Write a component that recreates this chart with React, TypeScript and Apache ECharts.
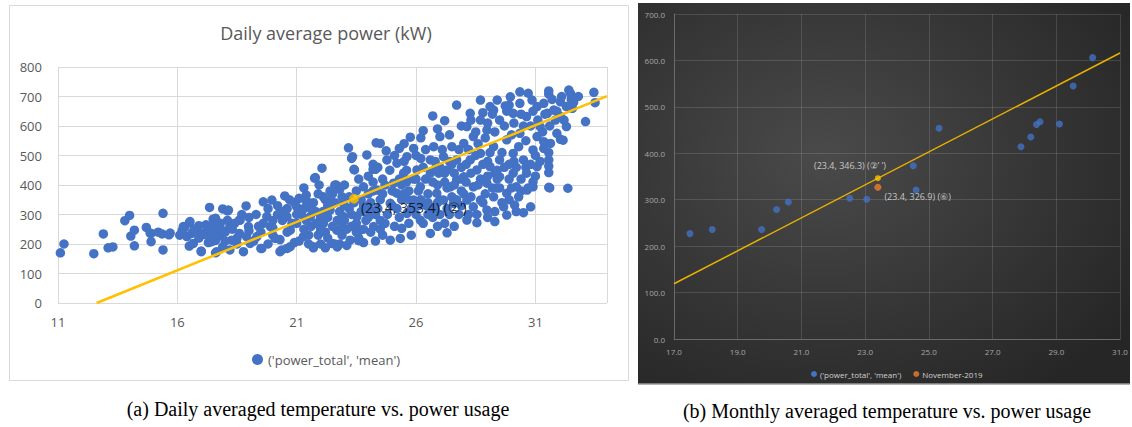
import React, { useEffect, useRef } from "react";
import * as echarts from "echarts";

// ---------- Data (a): daily averaged temperature vs power ----------
const dailyTitle = "Daily average power (kW)";
const seriesName = "('power_total', 'mean')";
const dailyXTicks = { min: 11, max: 34, interval: 5 };
const dailyYTicks = { min: 0, max: 800, interval: 100 };
const dailyPoints: [number, number][] = [
  [11.1, 170], [11.25, 200], [12.5, 167], [12.9, 234], [13.1, 187], [13.3, 190], [13.8, 279], [14.0, 297],
  [14.05, 227], [14.2, 247], [14.2, 194], [14.7, 256], [14.9, 236], [14.9, 208], [15.2, 240], [15.4, 304],
  [15.4, 180], [15.36, 234], [15.65, 231], [14.86, 237], [15.7, 237],
  [16.1, 230], [16.3, 256], [16.5, 272], [16.5, 193], [16.6, 236], [16.8, 245], [17.0, 176], [17.35, 324],
  [17.3, 250], [17.2, 240], [17.5, 284], [17.6, 170], [17.9, 319], [18.1, 312], [17.4, 220], [17.6, 212],
  [17.8, 230], [18.0, 240], [16.4, 225], [16.9, 220], [17.1, 232], [17.7, 245], [17.3, 205], [17.9, 190],
  [18.2, 180], [18.3, 250], [18.5, 220], [18.6, 281], [18.88, 329], [16.25, 259], [16.53, 276], [16.67, 202],
  [17.0, 174], [17.09, 236], [17.37, 247], [17.65, 236], [17.86, 247], [17.6, 287], [17.44, 208], [17.65, 174],
  [18.14, 315], [18.2, 259], [18.28, 213], [18.63, 281], [18.6, 236], [18.77, 174], [18.98, 259], [19.05, 202],
  [19.33, 225], [19.54, 185], [19.6, 343], [19.75, 293], [19.96, 349], [19.9, 259], [20.1, 219], [20.38, 180],
  [20.5, 363], [20.59, 293], [20.73, 247], [20.73, 191], [21.0, 270], [21.0, 326], [21.28, 225], [21.4, 366],
  [21.57, 293], [21.7, 191], [21.75, 423], [22.06, 457], [22.12, 360], [22.12, 270], [22.4, 315], [22.47, 202],
  [22.6, 400], [22.68, 247], [22.96, 338], [22.96, 293], [23.17, 526], [23.24, 213], [23.3, 490], [23.4, 453],
  [23.52, 293], [23.66, 247], [23.8, 394], [23.94, 502], [24.08, 315], [24.2, 453], [24.33, 543], [24.36, 383],
  [24.22, 259], [21.78, 425], [21.94, 400], [22.66, 400], [23.34, 496], [23.42, 451], [24.3, 453], [24.2, 470],
  [19.2, 210], [19.5, 240], [19.8, 200], [20.0, 230], [20.3, 215], [20.6, 240], [20.9, 205], [19.0, 245],
  [18.5, 200], [18.0, 210], [18.9, 225], [19.5, 185], [20.3, 174], [20.6, 185], [21.5, 230], [21.7, 187],
  [22.2, 187], [22.6, 200], [22.8, 200], [23.6, 211],
  [21.2, 300], [21.5, 340], [21.8, 310], [22.0, 290], [22.3, 330], [22.5, 370], [22.8, 310], [23.0, 280],
  [23.2, 320], [23.5, 380], [23.7, 350], [24.0, 370], [21.3, 250], [21.6, 260], [21.9, 230], [22.2, 240],
  [22.5, 260], [22.9, 230], [23.3, 260], [23.6, 220], [23.9, 280], [24.1, 240], [21.1, 210], [21.5, 200],
  [22.0, 200], [22.7, 190], [23.1, 195], [23.8, 205], [24.3, 300], [24.5, 350], [24.6, 420], [24.4, 460],
  [24.0, 430], [23.6, 420], [23.0, 400], [22.4, 380], [21.9, 370], [21.3, 390], [20.9, 340], [20.6, 320],
  [20.2, 300], [20.0, 280], [19.6, 270], [19.3, 300], [19.0, 290], [18.7, 300], [18.4, 270], [18.1, 280],
  [17.8, 270], [17.5, 260], [17.2, 265], [16.9, 262], [16.7, 250], [16.2, 245],
  [20.2, 330], [20.4, 280], [20.7, 350], [20.8, 270], [21.1, 355], [21.3, 320], [21.4, 280], [21.7, 340],
  [21.8, 270], [22.1, 310], [22.2, 350], [22.3, 290], [22.6, 340], [22.7, 280], [22.9, 360], [23.0, 330],
  [23.1, 250], [23.3, 300], [23.4, 340], [23.5, 270], [23.7, 310], [23.8, 330], [24.0, 290], [24.1, 340],
  [24.2, 380], [24.4, 320], [24.5, 280], [24.6, 370], [22.3, 220], [22.0, 250], [23.5, 240], [24.3, 210],
  [21.0, 300], [21.6, 320], [22.4, 350], [22.8, 385], [23.2, 360], [23.9, 320], [24.2, 410], [24.7, 400],
  [22.9, 260], [23.8, 250], [24.5, 250], [21.4, 345], [20.4, 310], [19.8, 320], [20.0, 255], [19.4, 260],
  [24.75, 516], [25.3, 524], [25.76, 562], [26.3, 584], [26.7, 634], [27.2, 618], [27.7, 671], [24.5, 541],
  [24.78, 485], [25.2, 474], [25.62, 496], [25.9, 524], [25.48, 440], [25.06, 406], [26.04, 451], [26.18, 394],
  [26.6, 485], [26.74, 530], [27.0, 564], [27.15, 496], [26.95, 440], [27.3, 451], [27.5, 530], [27.7, 485],
  [27.44, 394], [27.7, 417], [26.45, 329], [26.6, 310], [26.6, 236], [27.3, 238], [27.2, 270], [25.4, 253],
  [24.7, 270], [24.92, 213], [25.34, 219], [25.9, 349], [25.62, 304], [26.18, 281], [24.92, 338], [25.2, 372],
  [26.87, 372], [27.15, 349], [27.57, 338], [28.13, 281],
  [24.8, 300], [25.0, 330], [25.3, 290], [25.5, 370], [25.8, 320], [26.0, 300], [26.2, 350], [26.5, 370],
  [26.8, 320], [27.0, 300], [27.2, 410], [27.5, 360], [27.8, 300], [25.6, 410], [26.4, 420], [27.0, 460],
  [27.6, 440], [25.1, 260], [25.7, 270], [26.3, 270], [26.9, 260], [27.6, 260], [24.6, 230], [25.8, 230],
  [24.9, 450], [25.1, 500], [25.3, 420], [25.4, 350], [25.6, 450], [25.7, 380], [25.9, 420], [26.0, 500],
  [26.1, 380], [26.3, 460], [26.4, 520], [26.5, 340], [26.6, 440], [26.8, 480], [26.9, 400], [27.0, 350],
  [27.1, 520], [27.3, 390], [27.4, 480], [27.6, 400], [27.8, 520], [27.9, 460], [27.9, 380], [26.2, 560],
  [25.5, 540], [27.4, 570], [27.9, 600], [26.9, 590], [25.0, 380], [26.7, 290], [27.4, 300], [27.9, 330],
  [25.2, 320], [25.7, 350], [26.1, 330], [26.5, 300], [26.9, 340], [27.3, 320], [27.7, 350], [28.0, 370],
  [25.4, 400], [26.0, 420], [26.7, 410], [27.2, 440], [27.9, 420], [28.3, 360], [28.8, 340], [29.2, 390],
  [25.5, 480], [26.2, 490], [26.8, 455], [27.5, 470], [28.1, 470], [28.5, 500], [29.0, 480], [29.7, 460],
  [28.7, 420], [29.3, 440], [29.9, 350], [30.4, 380], [30.6, 460], [31.0, 430], [31.2, 480], [30.1, 480],
  [28.8, 645], [29.25, 654], [29.74, 668], [29.9, 671], [30.7, 711], [31.56, 719], [31.56, 708], [32.4, 722],
  [32.47, 711], [32.55, 660], [32.6, 680], [33.45, 714], [33.5, 679], [33.1, 615], [32.05, 682], [31.84, 620],
  [32.05, 555], [32.16, 552], [31.56, 510], [31.56, 485], [31.56, 464], [31.56, 442], [31.56, 392], [32.36, 389],
  [31.35, 547], [31.35, 524], [30.9, 411], [30.9, 394], [30.8, 326], [30.5, 306], [30.65, 383], [30.13, 332],
  [29.8, 298], [29.3, 276], [28.55, 272], [28.55, 300], [29.3, 310],
  [29.4, 390], [29.5, 390], [30.0, 390], [30.7, 390], [31.6, 390],
  [28.13, 598], [28.4, 564], [28.7, 620], [28.97, 586], [29.5, 620], [30.07, 643], [30.35, 677], [30.63, 632],
  [31.07, 666], [31.2, 598], [30.35, 575], [29.8, 553], [29.25, 530], [28.7, 507], [28.27, 485], [28.55, 451],
  [29.1, 462], [29.5, 485], [30.07, 507], [30.5, 485], [30.9, 519], [31.07, 462], [30.63, 440], [30.07, 440],
  [29.5, 428], [28.97, 406], [28.4, 394], [28.0, 428], [28.13, 349], [28.7, 349], [29.25, 360], [29.8, 372],
  [30.2, 394], [28.4, 326], [28.97, 315], [29.67, 326], [28.0, 541], [28.27, 643], [28.7, 688], [29.1, 666],
  [29.4, 688], [29.95, 699], [30.35, 716], [30.86, 688], [31.35, 677], [31.5, 643], [31.77, 654], [32.05, 632],
  [32.3, 666], [32.3, 598], [31.9, 575], [31.07, 564], [31.63, 541],
  [28.2, 520], [28.3, 620], [28.5, 580], [28.6, 540], [28.8, 470], [28.9, 560], [29.0, 610], [29.1, 510],
  [29.2, 640], [29.3, 580], [29.4, 450], [29.6, 510], [29.7, 600], [29.8, 650], [29.9, 470], [30.0, 570],
  [30.1, 610], [30.2, 460], [30.3, 530], [30.4, 640], [30.5, 600], [30.6, 550], [30.8, 600], [30.9, 650],
  [31.0, 500], [31.1, 620], [31.3, 580], [31.4, 640], [31.6, 600], [31.7, 690], [31.9, 650], [32.1, 700],
  [32.2, 620], [32.5, 690], [32.8, 700], [28.3, 440], [28.6, 400], [29.0, 430], [29.4, 420], [29.9, 420],
  [30.4, 420], [30.8, 470], [28.1, 410], [28.9, 370], [29.6, 340], [30.3, 360], [30.2, 310], [29.0, 290],
  [28.2, 300],
];
const dailyTrend: [number, number][] = [[12.62, 0], [34, 701]];
const dailyMarker: [number, number][] = [[23.4, 353.4]];
const dailyMarkerLabel = "(23.4, 353.4) (②’)";
const captionA = "(a) Daily averaged temperature vs. power usage";

// ---------- Data (b): monthly averaged temperature vs power ----------
const monthlyXTicks = { min: 17, max: 31, interval: 2 };
const monthlyYTicks = { min: 0, max: 700, interval: 100 };
const monthlyPoints: [number, number][] = [
  [17.5, 227], [18.2, 236], [19.75, 236], [20.22, 279], [20.59, 295], [22.52, 303], [23.05, 301],
  [24.51, 373], [24.6, 321], [25.32, 454], [27.89, 414], [28.2, 435], [28.38, 462], [28.49, 468],
  [29.1, 463], [29.53, 545], [30.14, 606],
];
const novemberName = "November-2019";
const novemberPoint: [number, number][] = [[23.4, 326.9]];
const novemberLabel = "(23.4, 326.9) (⑥)";
const monthlyTrend: [number, number][] = [[17, 119], [31, 616]];
const monthlyMarker: [number, number][] = [[23.4, 346.3]];
const monthlyMarkerLabel = "(23.4, 346.3) (②’ ’)";
const captionB = "(b) Monthly averaged temperature vs. power usage";

const BLUE = "#4472c4";
const GOLD = "#ffc000";
const ORANGE = "#ed7d31";
const SANS = "'Open Sans', 'DejaVu Sans', sans-serif";
const SERIF = "'Liberation Serif', 'DejaVu Serif', serif";

export default function App() {
  const ref = useRef<HTMLDivElement>(null);
  useEffect(() => {
    if (!ref.current) return;
    const chart = echarts.init(ref.current, null, { renderer: "svg" });
    const darkLabel = { color: "#a6a6a6", fontSize: 8, fontFamily: SANS };
    chart.setOption({
      animation: false,
      textStyle: { fontFamily: SANS },
      title: [
        {
          text: dailyTitle,
          left: 321,
          top: 19,
          textAlign: "center",
          textStyle: { color: "#595959", fontSize: 18, fontWeight: "normal", fontFamily: SANS },
        },
      ],
      graphic: [
        {
          type: "rect",
          z: -10,
          shape: { x: 9.5, y: 5.5, width: 619, height: 375 },
          style: { fill: "#ffffff", stroke: "#d9d9d9", lineWidth: 1 },
        },
        {
          type: "rect",
          z: -10,
          shape: { x: 638, y: 3, width: 492, height: 381 },
          style: {
            fill: {
              type: "radial",
              x: 0.38,
              y: 0.4,
              r: 0.75,
              colorStops: [
                { offset: 0, color: "#4a4a4a" },
                { offset: 1, color: "#262626" },
              ],
            },
            lineWidth: 0,
          },
        },
        {
          type: "line",
          z: -9,
          shape: { x1: 638, y1: 384, x2: 1130, y2: 384 },
          style: { stroke: "#9a9a9a", lineWidth: 1.5 },
        },
        {
          type: "text",
          x: 318,
          y: 409,
          style: {
            text: captionA,
            align: "center",
            verticalAlign: "middle",
            fontSize: 20,
            fontFamily: SERIF,
            fill: "#000",
          },
        },
        {
          type: "text",
          x: 887,
          y: 411,
          style: {
            text: captionB,
            align: "center",
            verticalAlign: "middle",
            fontSize: 20,
            fontFamily: SERIF,
            fill: "#000",
          },
        },
      ],
      legend: [
        {
          data: [seriesName],
          left: 247,
          top: 348,
          icon: "circle",
          itemWidth: 11,
          itemHeight: 11,
          textStyle: { color: "#595959", fontSize: 13, fontFamily: SANS },
          selectedMode: false,
        },
        {
          data: [seriesName, novemberName],
          left: 806,
          top: 365,
          icon: "circle",
          itemWidth: 6,
          itemHeight: 6,
          itemGap: 12,
          textStyle: { color: "#d0d0d0", fontSize: 8, fontFamily: SANS, padding: [0, 0, 0, -2] },
          selectedMode: false,
        },
      ],
      grid: [
        { left: 58, top: 67, width: 549, height: 236 },
        { left: 674, top: 14, width: 446, height: 325 },
      ],
      xAxis: [
        {
          gridIndex: 0,
          type: "value",
          ...dailyXTicks,
          axisLine: { show: false },
          axisTick: { show: false },
          axisLabel: { color: "#595959", fontSize: 13, margin: 12, showMaxLabel: false },
          splitLine: { show: true, lineStyle: { color: "#d9d9d9", width: 1 } },
        },
        {
          gridIndex: 1,
          type: "value",
          ...monthlyXTicks,
          axisLine: { show: true, lineStyle: { color: "#6a6a6a" } },
          axisTick: { show: false },
          axisLabel: { ...darkLabel, margin: 8, formatter: (v: number) => v.toFixed(1) },
          splitLine: { show: true, lineStyle: { color: "rgba(255,255,255,0.13)", width: 1 } },
        },
      ],
      yAxis: [
        {
          gridIndex: 0,
          type: "value",
          ...dailyYTicks,
          axisLine: { show: false },
          axisTick: { show: false },
          axisLabel: { color: "#595959", fontSize: 13, margin: 16 },
          splitLine: { show: true, lineStyle: { color: "#d9d9d9", width: 1 } },
        },
        {
          gridIndex: 1,
          type: "value",
          ...monthlyYTicks,
          axisLine: { show: true, lineStyle: { color: "#6a6a6a" } },
          axisTick: { show: false },
          axisLabel: { ...darkLabel, margin: 9, formatter: (v: number) => v.toFixed(1) },
          splitLine: { show: true, lineStyle: { color: "rgba(255,255,255,0.13)", width: 1 } },
        },
      ],
      series: [
        {
          name: seriesName,
          type: "scatter",
          xAxisIndex: 0,
          yAxisIndex: 0,
          data: dailyPoints,
          symbolSize: 9.5,
          itemStyle: { color: BLUE, opacity: 1 },
          z: 2,
        },
        {
          name: "trendA",
          type: "line",
          xAxisIndex: 0,
          yAxisIndex: 0,
          data: dailyTrend,
          symbol: "none",
          lineStyle: { color: GOLD, width: 2.5 },
          z: 3,
        },
        {
          name: "markerA",
          type: "scatter",
          xAxisIndex: 0,
          yAxisIndex: 0,
          data: dailyMarker,
          symbolSize: 9,
          itemStyle: { color: GOLD, borderColor: "#e0a800", borderWidth: 1 },
          label: {
            show: true,
            position: "right",
            distance: 2,
            offset: [0, 9],
            formatter: dailyMarkerLabel,
            color: "#000",
            fontSize: 14,
            fontFamily: SANS,
          },
          z: 10,
          zlevel: 1,
        },
        {
          name: seriesName,
          type: "scatter",
          xAxisIndex: 1,
          yAxisIndex: 1,
          data: monthlyPoints,
          symbolSize: 7,
          itemStyle: { color: BLUE },
          z: 2,
        },
        {
          name: "trendB",
          type: "line",
          xAxisIndex: 1,
          yAxisIndex: 1,
          data: monthlyTrend,
          symbol: "none",
          lineStyle: { color: "#e8b100", width: 1.5 },
          z: 3,
        },
        {
          name: novemberName,
          type: "scatter",
          xAxisIndex: 1,
          yAxisIndex: 1,
          data: novemberPoint,
          symbolSize: 7,
          itemStyle: { color: ORANGE },
          label: {
            show: true,
            position: "right",
            distance: 3,
            offset: [0, 9],
            formatter: novemberLabel,
            color: "#e6e6e6",
            fontSize: 9,
            fontFamily: SANS,
          },
          z: 4,
        },
        {
          name: "markerB",
          type: "scatter",
          xAxisIndex: 1,
          yAxisIndex: 1,
          data: monthlyMarker,
          symbolSize: 6,
          itemStyle: { color: GOLD },
          label: {
            show: true,
            position: "top",
            align: "right",
            distance: 3,
            offset: [8, -2],
            formatter: monthlyMarkerLabel,
            color: "#e6e6e6",
            fontSize: 9,
            fontFamily: SANS,
          },
          z: 4,
        },
      ],
    });
    return () => chart.dispose();
  }, []);
  return (
    <div
      ref={ref}
      style={{ position: "fixed", left: 0, top: 0, width: 1132, height: 427, background: "#fff" }}
    />
  );
}
